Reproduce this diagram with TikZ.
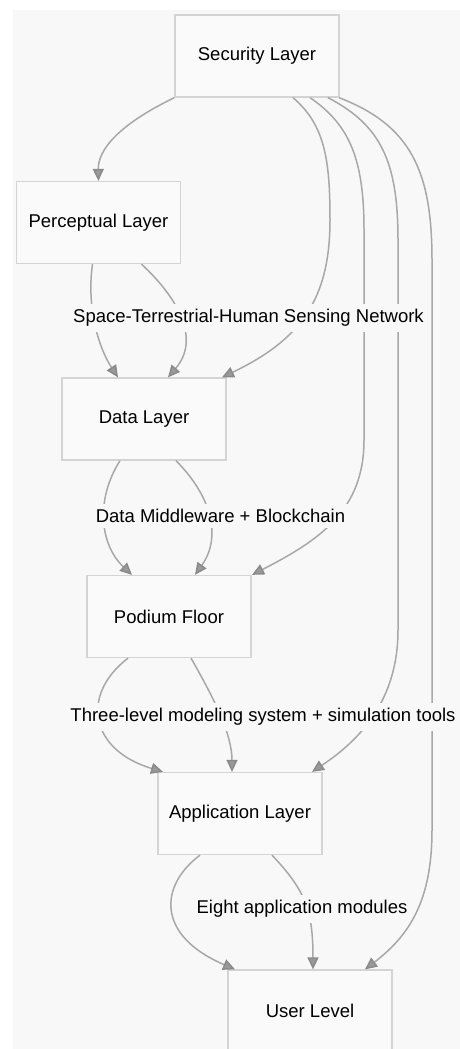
\documentclass[tikz,border=0pt]{standalone}
\usepackage{fontspec}
\setmainfont{Liberation Sans}
\usetikzlibrary{arrows.meta}
\definecolor{bgc}{HTML}{F8F8F8}
\definecolor{boxfill}{HTML}{FAFAFA}
\definecolor{boxline}{HTML}{D4D4D4}
\definecolor{edgec}{HTML}{A8A8A8}
\definecolor{tipfill}{HTML}{999999}
\definecolor{tipline}{HTML}{8A8A8A}
\tikzset{
  layer/.style={draw=boxline, fill=boxfill, line width=1.3pt, minimum width=164pt, minimum height=82pt, inner sep=0pt,
    font=\fontsize{18.5}{22}\selectfont},
  conn/.style={draw=edgec, line width=1.5pt,
    -{Triangle[length=12pt,width=11pt,fill=tipfill,color=tipline]}},
  elabel/.style={fill=bgc, inner xsep=3pt, inner ysep=5pt, font=\fontsize{18.5}{22}\selectfont}
}
\begin{document}
\begin{tikzpicture}[x=1pt,y=-1pt]
\useasboundingbox (0,0) rectangle (460,1049);
\fill[bgc] (13,10) rectangle (460,1049);

\node[layer] (sec) at (257,56) {Security Layer};
\node[layer] (perc) at (98.5,222.5) {Perceptual Layer};
\node[layer] (data) at (144,419) {Data Layer};
\node[layer] (pod) at (169,616.5) {Podium Floor};
\node[layer] (app) at (240,813.5) {Application Layer};
\node[layer] (user) at (310,1011) {User Level};

% Security -> others
\draw[conn] (sec.south west) .. controls (118,125) and (98,150) .. (perc.north);
\draw[conn] ([xshift=36pt]sec.south) .. controls (325,125) and (330,160) .. (330,220)
   .. controls (330,300) and (300,340) .. ([xshift=78pt]data.north);
\draw[conn] ([xshift=53pt]sec.south) .. controls (350,125) and (364,160) .. (364,230) -- (364,440)
   .. controls (364,510) and (320,540) .. ([xshift=83pt]pod.north);
\draw[conn] ([xshift=71pt]sec.south) .. controls (380,125) and (398,160) .. (398,240) -- (398,630)
   .. controls (398,700) and (360,740) .. ([xshift=72pt]app.north);
\draw[conn] ([xshift=82pt]sec.south) .. controls (410,125) and (432,170) .. (432,260) -- (432,830)
   .. controls (432,900) and (410,935) .. ([xshift=55pt]user.north);

% Perceptual -> Data
\draw[conn] ([xshift=-6pt]perc.south) .. controls (86,310) and (100,350) .. ([xshift=-26pt]data.north);
\draw[conn] ([xshift=43pt]perc.south) .. controls (180,300) and (200,340) .. ([xshift=24pt]data.north);

% Data -> Podium
\draw[conn] ([xshift=-24pt]data.south) .. controls (95,500) and (100,545) .. ([xshift=-37pt]pod.north);
\draw[conn] ([xshift=32pt]data.south) .. controls (215,500) and (220,540) .. ([xshift=26pt]pod.north);

% Podium -> Application
\draw[conn] ([xshift=-41pt]pod.south) .. controls (80,695) and (90,750) .. ([xshift=-77pt]app.north);
\draw[conn] ([xshift=22pt]pod.south) .. controls (215,700) and (232,735) .. ([xshift=-8pt]app.north);

% Application -> User
\draw[conn] ([xshift=-40pt]app.south) .. controls (160,885) and (155,935) .. ([xshift=-75pt]user.north);
\draw[conn] ([xshift=32pt]app.south) .. controls (305,890) and (313,910) .. ([xshift=3pt]user.north);

% edge labels
\node[elabel] (l1) at (248.5,318) {Space-Terrestrial-Human Sensing Network};
\node[elabel] (l2) at (220.5,516) {Data Middleware + Blockchain};
\node[elabel] (l3) at (263,717) {Three-level modeling system + simulation tools};
\node[elabel] (l4) at (302,909) {Eight application modules};
\end{tikzpicture}
\end{document}
